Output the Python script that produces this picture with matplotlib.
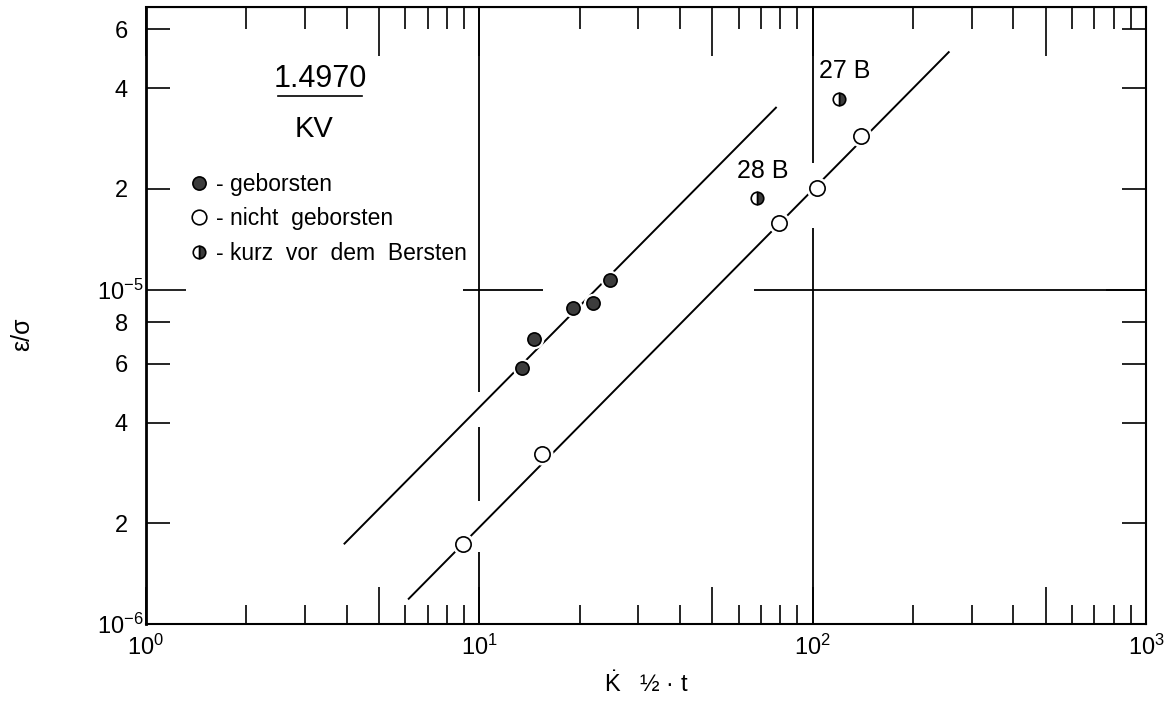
import matplotlib
matplotlib.use("Agg")
import matplotlib.pyplot as plt
from matplotlib.lines import Line2D

plt.rcParams['font.family'] = ['Liberation Sans', 'DejaVu Sans']
plt.rcParams['mathtext.fontset'] = 'custom'
plt.rcParams['mathtext.rm'] = 'Liberation Sans'
plt.rcParams['mathtext.it'] = 'Liberation Sans:italic'
plt.rcParams['mathtext.bf'] = 'Liberation Sans:bold'

# measured points (K^1/2 * t , eps/sigma)
geborsten_x = [13.4, 14.6, 19.1, 22.0, 24.7]
geborsten_y = [5.83e-6, 7.10e-6, 8.79e-6, 9.13e-6, 1.07e-5]

nicht_x = [8.96, 15.4, 79.0, 103.0, 140.0]
nicht_y = [1.73e-6, 3.22e-6, 1.585e-5, 2.01e-5, 2.88e-5]

kurz_x = [68.0, 120.0]
kurz_y = [1.875e-5, 3.71e-5]
kurz_labels = ["28 B", "27 B"]

# hand drawn fit lines (end points)
upper_x = [3.94, 77.6]
upper_y = [1.74e-6, 3.50e-5]
lower_x = [6.14, 256.0]
lower_y = [1.19e-6, 5.13e-5]

# axis ticks
x_major = [1, 5, 10, 50, 100, 500, 1000]
x_major_labels = ["$10^{0}$", "", "$10^{1}$", "", "$10^{2}$", "", "$10^{3}$"]
x_minor = [m * d for d in (1, 10, 100) for m in (2, 3, 4, 6, 7, 8, 9)]
y_major = [1e-6, 1e-5]
y_major_labels = ["$10^{-6}$", "$10^{-5}$"]
y_minor = [2e-6, 4e-6, 6e-6, 8e-6, 2e-5, 4e-5, 6e-5]
y_minor_labels = ["2", "4", "6", "8", "2", "4", "6"]

fig = plt.figure(figsize=(11.69, 7.01), dpi=100)
ax = fig.add_axes([0.1249, 0.1098, 0.8554, 0.8802])
ax.set_xscale('log')
ax.set_yscale('log')
ax.set_xlim(1, 1000)
ax.set_ylim(1e-6, 7e-5)

for s in ax.spines.values():
    s.set_linewidth(1.5)
ax.spines['left'].set_linewidth(2.0)

# partial guide lines (broken where the fit lines cross)
ax.vlines([10, 10, 10], [4.93e-6, 2.34e-6, 1e-6], [7e-5, 3.88e-6, 1.64e-6], color='k', lw=1.3)
ax.vlines([100, 100], [2.39e-5, 1e-6], [7e-5, 1.53e-5], color='k', lw=1.3)
ax.hlines([1e-5, 1e-5], [8.93, 66.5], [15.5, 1000], color='k', lw=1.3)

ax.plot(upper_x, upper_y, color='k', lw=1.4, zorder=3)
ax.plot(lower_x, lower_y, color='k', lw=1.4, zorder=3)

# white halo under markers so the lines stop short of them
ax.plot(geborsten_x, geborsten_y, 'o', ms=13, color='white', mec='white', zorder=4)
ax.plot(nicht_x, nicht_y, 'o', ms=15, color='white', mec='white', zorder=4)
ax.plot(geborsten_x, geborsten_y, 'o', ms=9.5, mfc='#3c3c3c', mec='k', mew=1.2, zorder=5)
ax.plot(nicht_x, nicht_y, 'o', ms=11, mfc='white', mec='k', mew=1.2, zorder=5)
ax.plot(kurz_x, kurz_y, 'o', ms=9, fillstyle='right', mfc='#3c3c3c', mfcalt='white',
        mec='k', mew=1.2, ls='', zorder=5)
for x, y, lab in zip(kurz_x, kurz_y, kurz_labels):
    ax.annotate(lab, (x, y), xytext=(4, 20), textcoords='offset points',
                ha='center', va='center', fontsize=18)

# ticks
ax.set_xticks(x_major, labels=x_major_labels)
ax.set_xticks(x_minor, labels=[""] * len(x_minor), minor=True)
ax.tick_params(axis='x', which='major', direction='in', length=27, width=1.2,
               labelsize=17, pad=8, top=False)
ax.tick_params(axis='x', which='minor', direction='in', length=14, width=1.2, top=False)
top = ax.secondary_xaxis('top')
top.set_xticks(x_major, labels=[""] * len(x_major))
top.set_xticks(x_minor, labels=[""] * len(x_minor), minor=True)
top.tick_params(which='major', direction='in', length=35, width=1.2)
top.tick_params(which='minor', direction='in', length=16, width=1.2)

ax.set_yticks(y_major, labels=y_major_labels)
ax.set_yticks(y_minor, labels=y_minor_labels, minor=True)
ax.tick_params(axis='y', which='major', direction='in', length=29, width=1.2,
               labelsize=17, pad=2, right=True)
ax.tick_params(axis='y', which='minor', direction='in', length=17, width=1.2,
               labelsize=17, pad=13, right=True)

ax.set_xlabel(r"$\dot{\mathrm{K}}$   ½ · t", fontsize=17, labelpad=8)
ax.set_ylabel("ε/σ", fontsize=18)
ax.yaxis.set_label_coords(-0.112, 0.47)

# title block
ax.text(0.174, 0.884, "1.4970", transform=ax.transAxes, ha='center', va='center', fontsize=22)
ax.add_line(Line2D([0.132, 0.216], [0.856, 0.856], transform=ax.transAxes, color='k', lw=1.2))
ax.text(0.168, 0.802, "KV", transform=ax.transAxes, ha='center', va='center', fontsize=21)

handles = [
    Line2D([], [], ls='', marker='o', ms=9.5, mfc='#3c3c3c', mec='k', mew=1.2),
    Line2D([], [], ls='', marker='o', ms=10.5, mfc='white', mec='k', mew=1.2),
    Line2D([], [], ls='', marker='o', ms=9, fillstyle='right', mfc='#3c3c3c',
           mfcalt='white', mec='k', mew=1.2),
]
labels = ["- geborsten", "- nicht  geborsten", "- kurz  vor  dem  Bersten"]
ax.legend(handles, labels, loc='upper left', bbox_to_anchor=(0.046, 0.731),
          frameon=False, fontsize=16.5, handlelength=0.6, handletextpad=0.45,
          labelspacing=0.5, borderpad=0, borderaxespad=0)

fig.savefig("out.png", dpi=100)
